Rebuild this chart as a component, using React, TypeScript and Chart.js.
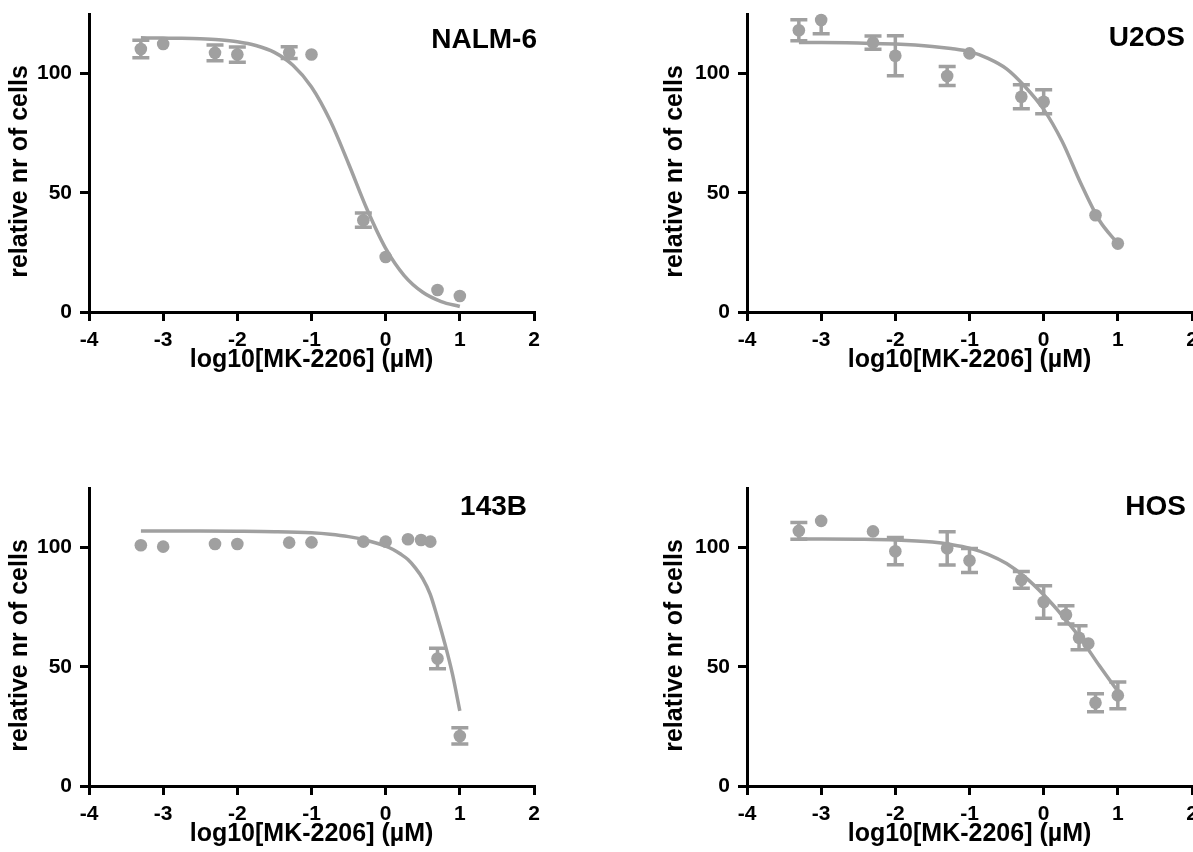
import React, { useEffect, useRef } from "react";
import { Chart, registerables } from "chart.js";

Chart.register(...registerables);

const GRAY = "#a0a0a0";
const FONT = "'Liberation Sans', Arial, Helvetica, sans-serif";

const xTickValues = [-4, -3, -2, -1, 0, 1, 2];
const yTickValues = [0, 50, 100];
const xAxisTitle = "log10[MK-2206] (µM)";
const yAxisTitle = "relative nr of cells";

// log10 of the doses (µM)
const doseA = [-3.301, -3, -2.301, -2, -1.301, -1, -0.301, 0, 0.699, 1];
const doseB = [-3.301, -3, -2.301, -2, -1.301, -1, -0.301, 0, 0.301, 0.477, 0.602, 0.699, 1];

// NALM-6
const nalmMean = [110.3, 112.4, 108.7, 108, 108.8, 108, 38.5, 23.1, 9.2, 6.7];
const nalmErr = [3.7, 0, 3.3, 3.2, 2.5, 0, 3, 0, 0, 0];
const nalmCurveX = [-3.3, -3, -2.75, -2.5, -2.25, -2, -1.75, -1.5, -1.25, -1, -0.75, -0.5, -0.25, 0, 0.25, 0.5, 0.75, 1];
const nalmCurveY = [115, 114.9, 114.8, 114.6, 114.2, 113.4, 111.8, 108.9, 103.5, 94.4, 80.4, 62.2, 43, 26.7, 15.3, 8.3, 4.4, 2.3];

// U2OS
const u2osMean = [118.2, 122.5, 113, 107.5, 99, 108.5, 90.3, 88.2, 40.6, 28.7];
const u2osErr = [4.4, 5.8, 2.8, 8.4, 4, 0, 5, 5, 0, 0];
const u2osCurveX = [-3.3, -3, -2.5, -2, -1.5, -1.25, -1, -0.75, -0.5, -0.25, 0, 0.25, 0.5, 0.75, 1];
const u2osCurveY = [113, 113, 112.8, 112.4, 111.4, 110.5, 109.2, 106.4, 102, 94.5, 85, 71.5, 54, 38.5, 28.7];

// 143B
const b143Mean = [101, 100.4, 101.5, 101.5, 102.1, 102.2, 102.5, 102.5, 103.5, 103.2, 102.5, 53.5, 21];
const b143Err = [0, 0, 0, 0, 0, 0, 0, 0, 0, 0, 0, 4.3, 3.4];
const b143CurveX = [-3.3, -3, -2.5, -2, -1.5, -1, -0.75, -0.5, -0.25, 0, 0.1, 0.2, 0.3, 0.4, 0.5, 0.6, 0.7, 0.8, 0.9, 1];
const b143CurveY = [107, 107, 107, 106.9, 106.7, 106.2, 105.6, 104.6, 103, 100.6, 99.2, 97.3, 95, 91.5, 87, 80.5, 70.5, 59.5, 47, 31.5];

// HOS
const hosMean = [107, 111.2, 106.8, 98.5, 99.7, 94.6, 86.5, 77.2, 71.8, 62.2, 59.8, 34.9, 38];
const hosErr = [3.5, 0, 0, 5.7, 7, 5, 3.5, 6.8, 3.8, 5, 0, 3.8, 5.6];
const hosCurveX = [-3.3, -3, -2.5, -2, -1.5, -1.25, -1, -0.75, -0.5, -0.25, 0, 0.25, 0.5, 0.75, 1];
const hosCurveY = [103.6, 103.6, 103.5, 103.2, 102.3, 101.3, 99.8, 97.2, 93.3, 87.6, 80.2, 71.5, 61.8, 50.5, 39.7];

type PanelProps = {
  left: number;
  top: number;
  name: string;
  nameX: number;
  nameY: number;
  yTitleX: number;
  dose: number[];
  mean: number[];
  err: number[];
  curveX: number[];
  curveY: number[];
};

const W = 560;
const H = 380;

function Panel(props: PanelProps) {
  const ref = useRef<HTMLCanvasElement | null>(null);
  useEffect(() => {
    if (!ref.current) return;
    const { name, nameX, nameY, yTitleX, dose, mean, err, curveX, curveY } = props;

    const errorBars = {
      id: "errorBars",
      beforeDatasetsDraw(chart: any) {
        const { ctx, chartArea, scales } = chart;
        const xs = scales.x;
        const ys = scales.y;
        ctx.save();
        ctx.beginPath();
        ctx.rect(chartArea.left - 20, chartArea.top, chartArea.right - chartArea.left + 40, chartArea.bottom - chartArea.top);
        ctx.clip();
        ctx.strokeStyle = GRAY;
        ctx.lineWidth = 3.5;
        ctx.lineCap = "butt";
        for (let i = 0; i < dose.length; i++) {
          const e = err[i];
          if (!e) continue;
          const px = xs.getPixelForValue(dose[i]);
          const y1 = ys.getPixelForValue(mean[i] + e);
          const y2 = ys.getPixelForValue(mean[i] - e);
          ctx.beginPath();
          ctx.moveTo(px, y1);
          ctx.lineTo(px, y2);
          ctx.moveTo(px - 8.5, y1);
          ctx.lineTo(px + 8.5, y1);
          ctx.moveTo(px - 8.5, y2);
          ctx.lineTo(px + 8.5, y2);
          ctx.stroke();
        }
        ctx.restore();
      },
    };

    const texts = {
      id: "panelTexts",
      afterDraw(chart: any) {
        const { ctx, chartArea } = chart;
        ctx.save();
        ctx.fillStyle = "#000";
        ctx.font = `bold 28px ${FONT}`;
        ctx.textAlign = "right";
        ctx.textBaseline = "middle";
        ctx.fillText(name, nameX, nameY);

        ctx.font = `bold 25px ${FONT}`;
        ctx.textAlign = "center";
        ctx.fillText(xAxisTitle, (chartArea.left + chartArea.right) / 2, 360);

        ctx.translate(yTitleX, 171.5);
        ctx.rotate(-Math.PI / 2);
        ctx.fillText(yAxisTitle, 0, 0);
        ctx.restore();
      },
    };

    const tickFont = { family: FONT, size: 21, weight: "bold" as const };

    const chart = new Chart(ref.current, {
      type: "scatter",
      data: {
        datasets: [
          {
            type: "line",
            data: curveX.map((x, i) => ({ x, y: curveY[i] })),
            borderColor: GRAY,
            borderWidth: 3.5,
            pointRadius: 0,
            showLine: true,
            fill: false,
            cubicInterpolationMode: "monotone",
            clip: false,
            order: 2,
          } as any,
          {
            type: "scatter",
            data: dose.map((x, i) => ({ x, y: mean[i] })),
            backgroundColor: GRAY,
            borderColor: GRAY,
            borderWidth: 0,
            pointRadius: 6.3,
            clip: false,
            order: 1,
          } as any,
        ],
      },
      options: {
        responsive: false,
        maintainAspectRatio: false,
        animation: false,
        events: [],
        layout: { padding: { left: 0, top: 14, right: 26, bottom: 0 } },
        plugins: {
          legend: { display: false },
          tooltip: { enabled: false },
          title: { display: false },
        },
        scales: {
          x: {
            type: "linear",
            min: -4,
            max: 2,
            afterBuildTicks: (s: any) => {
              s.ticks = xTickValues.map((v) => ({ value: v }));
            },
            afterFit: (s: any) => {
              s.height = H - 312;
              s.paddingLeft = 0;
              s.paddingRight = 0;
            },
            grid: {
              display: true,
              drawOnChartArea: false,
              drawTicks: true,
              tickLength: 9,
              tickWidth: 3,
              tickColor: "#000",
              lineWidth: 3,
              color: "#000",
            },
            border: { display: true, color: "#000", width: 3 },
            ticks: {
              color: "#000",
              font: tickFont,
              padding: 7,
              maxRotation: 0,
              autoSkip: false,
              callback: (v: any) => String(v),
            },
          },
          y: {
            type: "linear",
            min: 0,
            max: 125,
            afterBuildTicks: (s: any) => {
              s.ticks = yTickValues.map((v) => ({ value: v }));
            },
            afterFit: (s: any) => {
              s.width = 89;
              s.paddingTop = 0;
              s.paddingBottom = 0;
            },
            grid: {
              display: true,
              drawOnChartArea: false,
              drawTicks: true,
              tickLength: 9,
              tickWidth: 3,
              tickColor: "#000",
              lineWidth: 3,
              color: "#000",
            },
            border: { display: true, color: "#000", width: 3 },
            ticks: {
              color: "#000",
              font: tickFont,
              padding: 8,
              autoSkip: false,
              callback: (v: any) => String(v),
            },
          },
        },
      },
      plugins: [errorBars, texts],
    });
    return () => chart.destroy();
  }, []);

  return (
    <canvas
      ref={ref}
      width={W}
      height={H}
      style={{ position: "absolute", left: props.left, top: props.top, width: W, height: H }}
    />
  );
}

export default function App() {
  return (
    <div
      style={{
        position: "absolute",
        left: 0,
        top: 0,
        width: 1193,
        height: 852,
        overflow: "hidden",
        background: "#fff",
      }}
    >
      <Panel left={0} top={0} name="NALM-6" nameX={537} nameY={40} yTitleX={20} dose={doseA} mean={nalmMean} err={nalmErr} curveX={nalmCurveX} curveY={nalmCurveY} />
      <Panel left={658} top={0} name="U2OS" nameX={527} nameY={38} yTitleX={17} dose={doseA} mean={u2osMean} err={u2osErr} curveX={u2osCurveX} curveY={u2osCurveY} />
      <Panel left={0} top={474} name="143B" nameX={527} nameY={33} yTitleX={20} dose={doseB} mean={b143Mean} err={b143Err} curveX={b143CurveX} curveY={b143CurveY} />
      <Panel left={658} top={474} name="HOS" nameX={528} nameY={33} yTitleX={17} dose={doseB} mean={hosMean} err={hosErr} curveX={hosCurveX} curveY={hosCurveY} />
    </div>
  );
}
